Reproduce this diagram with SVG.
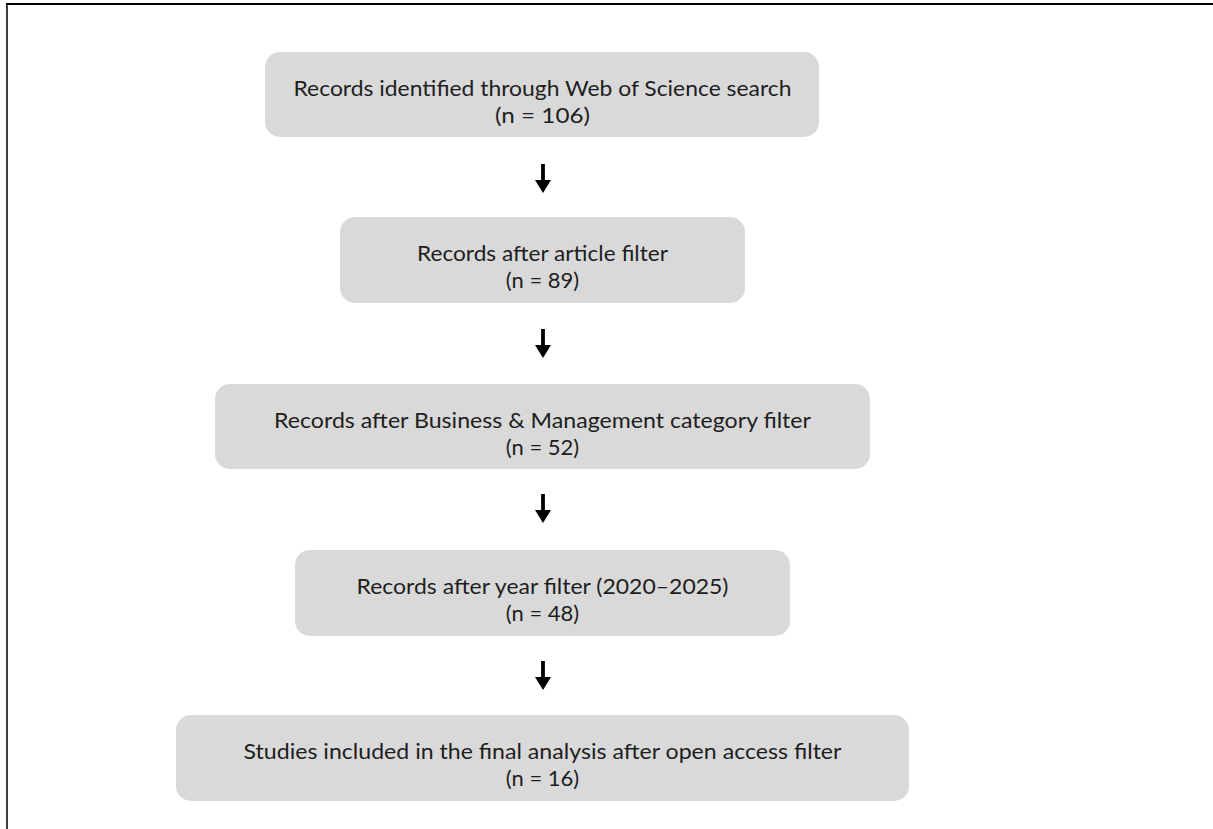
<svg xmlns="http://www.w3.org/2000/svg" width="1213" height="829" viewBox="0 0 1213 829">
<style>
.box{fill:#d9d9d9;}
.t{font-family:Lato,"Open Sans","Liberation Sans",sans-serif;font-size:22px;fill:#1e1e1e;text-anchor:middle;}
.arr{stroke:#000;stroke-width:3.8;fill:none;}
.frame{stroke:#000;fill:none;}
</style>
<defs>
<marker id="ah" markerUnits="userSpaceOnUse" markerWidth="16" markerHeight="16" refX="0" refY="8" orient="auto">
<path d="M0,0 L13,8 L0,16 Z" fill="#000"/>
</marker>
</defs>
<rect width="1213" height="829" fill="#fff"/>
<g id="frame">
<line class="frame" x1="6" y1="4" x2="1213" y2="4" stroke-width="2"/>
<line class="frame" x1="7" y1="4" x2="7" y2="829" stroke-width="1.5"/>
</g>
<g id="n1">
<rect class="box" x="265" y="52" width="554" height="85" rx="15"/>
<text class="t" x="542.5" y="96" textLength="498" lengthAdjust="spacingAndGlyphs">Records identified through Web of Science search</text>
<text class="t" x="542.5" y="123" textLength="95" lengthAdjust="spacingAndGlyphs">(n = 106)</text>
</g>
<g id="n2">
<rect class="box" x="340" y="217" width="405" height="86" rx="15"/>
<text class="t" x="542.5" y="261" textLength="251" lengthAdjust="spacingAndGlyphs">Records after article filter</text>
<text class="t" x="542.5" y="288">(n = 89)</text>
</g>
<g id="n3">
<rect class="box" x="215" y="384" width="655" height="85" rx="15"/>
<text class="t" x="542.5" y="428" textLength="537" lengthAdjust="spacingAndGlyphs">Records after Business &amp; Management category filter</text>
<text class="t" x="542.5" y="455">(n = 52)</text>
</g>
<g id="n4">
<rect class="box" x="295" y="550" width="495" height="86" rx="15"/>
<text class="t" x="542.5" y="594" textLength="372" lengthAdjust="spacingAndGlyphs">Records after year filter (2020–2025)</text>
<text class="t" x="542.5" y="621">(n = 48)</text>
</g>
<g id="n5">
<rect class="box" x="176" y="715" width="733" height="86" rx="15"/>
<text class="t" x="542.5" y="759" textLength="598" lengthAdjust="spacingAndGlyphs">Studies included in the final analysis after open access filter</text>
<text class="t" x="542.5" y="786">(n = 16)</text>
</g>
<g id="connectors">
<line class="arr" x1="543" y1="164" x2="543" y2="180" marker-end="url(#ah)"/>
<line class="arr" x1="543" y1="329" x2="543" y2="345" marker-end="url(#ah)"/>
<line class="arr" x1="543" y1="494" x2="543" y2="510" marker-end="url(#ah)"/>
<line class="arr" x1="543" y1="661" x2="543" y2="677" marker-end="url(#ah)"/>
</g>
</svg>
